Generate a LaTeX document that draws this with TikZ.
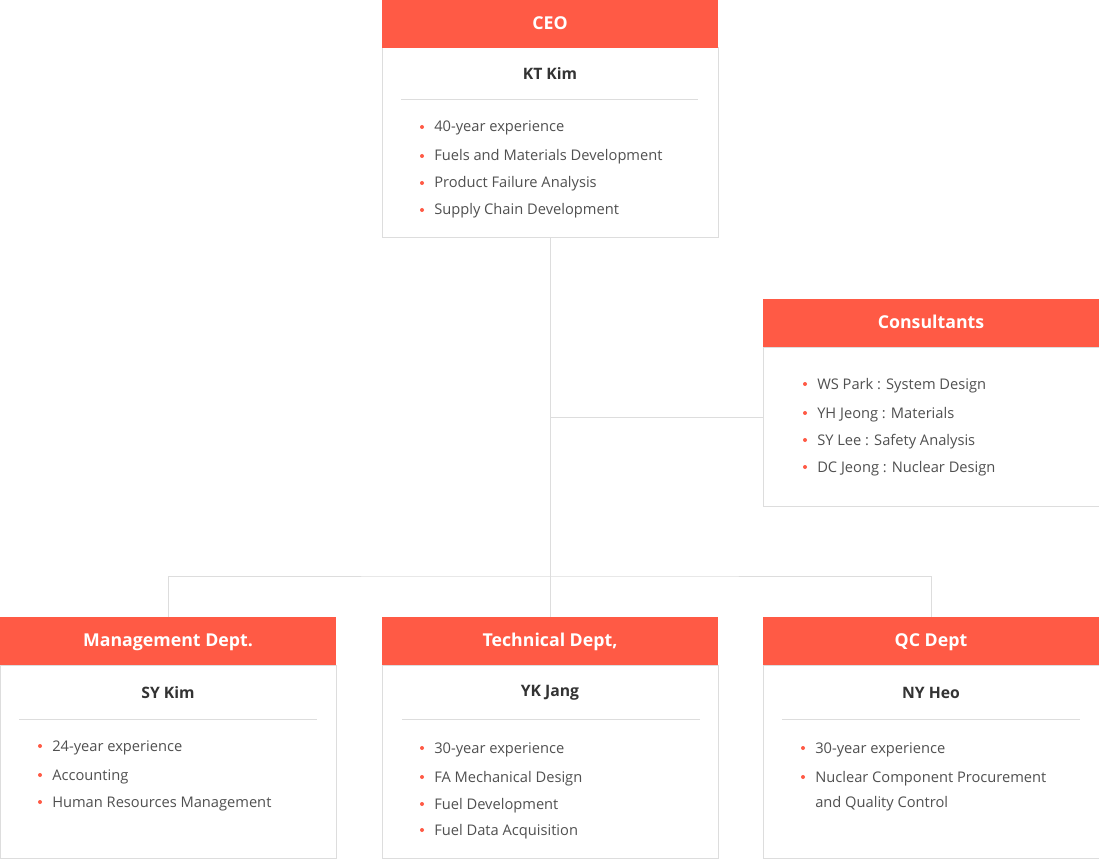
\documentclass[tikz,border=0pt]{standalone}
\usepackage{fontspec}
\setmainfont{Open Sans}
\definecolor{hdr}{RGB}{255,90,69}
\definecolor{bord}{RGB}{221,221,221}
\definecolor{dark}{RGB}{51,51,51}
\definecolor{txt}{RGB}{80,80,80}
\newcommand\bul[4]{%
  \fill[hdr] (#2,#3) circle (2);
  \node[btext, anchor=base west] (#1) at (#2+12,#3+5) {#4};}
\begin{document}
\begin{tikzpicture}[x=0.75pt,y=-0.75pt,
  hdrbox/.style={fill=hdr, draw=none, text=white, font=\bfseries\fontsize{13.3}{15}\selectfont, anchor=north west, minimum width=252pt, minimum height=36pt, inner sep=0pt, outer sep=0pt},
  hdrtext/.style={text=white, font=\bfseries\fontsize{13.3}{15}\selectfont, anchor=base, inner sep=0pt},
  bodybox/.style={draw=bord, line width=0.75pt, fill=white, anchor=north west, minimum width=252pt, inner sep=0pt, outer sep=0pt},
  nametext/.style={text=dark, font=\bfseries\fontsize{11.8}{13}\selectfont, anchor=base, inner sep=0pt},
  btext/.style={text=txt, font=\fontsize{11}{13}\selectfont, inner sep=0pt},
  sepline/.style={draw=bord, line width=0.75pt},
  conn/.style={draw=bord, line width=0.75pt}]
\useasboundingbox (0,0) rectangle (1099,859);
\fill[white] (0,0) rectangle (1099,859);

\coordinate (bus) at (550,576);
\coordinate (cj) at (550,417);

% CEO
\node[bodybox, minimum height=142.5pt] (ceob) at (382,48) {};
\node[hdrbox] (ceoh) at (382,0) {};
\node[hdrtext] (ceot) at (550,30) {CEO};
\node[nametext] (ceon) at (550,80) {KT Kim};
\draw[sepline] (401,100) -- (698,100);
\bul{c1}{422}{127}{40-year experience}
\bul{c2}{422}{156}{Fuels and Materials Development}
\bul{c3}{422}{183}{Product Failure Analysis}
\bul{c4}{422}{210}{Supply Chain Development}

% Consultants
\node[bodybox, minimum height=119.25pt] (consb) at (763,347) {};
\node[hdrbox] (consh) at (763,299) {};
\node[hdrtext] (const) at (931,328) {Consultants};
\bul{k1}{805}{384}{WS Park : System Design}
\bul{k2}{805}{413}{YH Jeong : Materials}
\bul{k3}{805}{440}{SY Lee : Safety Analysis}
\bul{k4}{805}{467}{DC Jeong : Nuclear Design}

% Management
\node[bodybox, minimum height=144.75pt] (mgmtb) at (0,665) {};
\node[hdrbox] (mgmth) at (0,617) {};
\node[hdrtext] (mgmtt) at (168,646) {Management Dept.};
\node[nametext] (mgmtn) at (168,698) {SY Kim};
\draw[sepline] (19,719) -- (317,719);
\bul{m1}{40}{746}{24-year experience}
\bul{m2}{40}{775}{Accounting}
\bul{m3}{40}{802}{Human Resources Management}

% Technical
\node[bodybox, minimum height=144.75pt] (techb) at (382,665) {};
\node[hdrbox] (techh) at (382,617) {};
\node[hdrtext] (techt) at (550,646) {Technical Dept,};
\node[nametext] (techn) at (550,696) {YK Jang};
\draw[sepline] (402,719) -- (700,719);
\bul{t1}{422}{748}{30-year experience}
\bul{t2}{422}{777}{FA Mechanical Design}
\bul{t3}{422}{804}{Fuel Development}
\bul{t4}{422}{830}{Fuel Data Acquisition}

% QC
\node[bodybox, minimum height=144.75pt] (qcb) at (763,665) {};
\node[hdrbox] (qch) at (763,617) {};
\node[hdrtext] (qct) at (931,646) {QC Dept};
\node[nametext] (qcn) at (931,698) {NY Heo};
\draw[sepline] (782,719) -- (1080,719);
\bul{q1}{803}{748}{30-year experience}
\bul{q2}{803}{777}{Nuclear Component Procurement}
\node[btext, anchor=base west] (q3) at (815,807) {and Quality Control};

% connector lines
\draw[conn] (ceob.south) -- (techh.north);
\draw[conn] (cj) -- (cj -| consb.west);
\draw[conn] (mgmth.north) |- (bus) -| (qch.north);
\end{tikzpicture}
\end{document}
